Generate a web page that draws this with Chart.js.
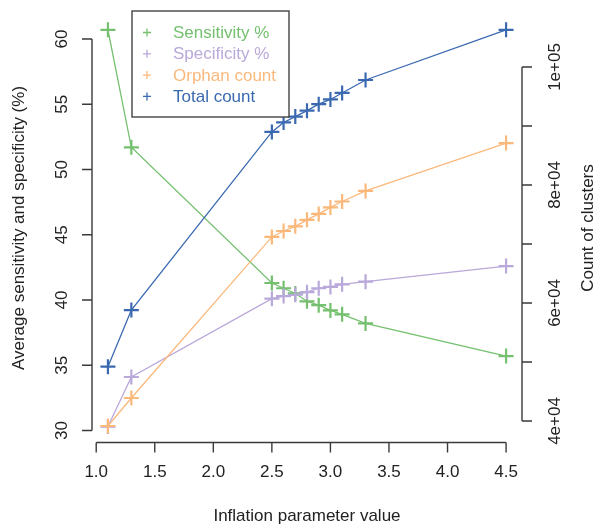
<!DOCTYPE html>
<html><head><meta charset="utf-8">
<script src="https://cdn.jsdelivr.net/npm/chart.js@4"></script>
<style>html,body{margin:0;padding:0;background:#fff;}</style>
</head><body>
<canvas id="c" width="599" height="525"></canvas>
<script>
// ---- data ----
const inflation   = [1.1, 1.3, 2.5, 2.6, 2.7, 2.8, 2.9, 3.0, 3.1, 3.3, 4.5];
const sensitivity = [60.7, 51.7, 41.3, 40.9, 40.5, 39.9, 39.6, 39.2, 38.9, 38.2, 35.7];
const specificity = [30.3, 34.1, 40.1, 40.3, 40.4, 40.6, 40.9, 41.0, 41.2, 41.4, 42.6];
const orphanCount = [39150, 43900, 71200, 72200, 73000, 74100, 75100, 76200, 77200, 79000, 87100];
const totalCount  = [49200, 58800, 89000, 90600, 91600, 92600, 93700, 94500, 95600, 97800, 106300];
const xTicks = [1.0, 1.5, 2.0, 2.5, 3.0, 3.5, 4.0, 4.5];
const xTickLabels = ['1.0','1.5','2.0','2.5','3.0','3.5','4.0','4.5'];
const leftTicks = [30, 35, 40, 45, 50, 55, 60];
const rightTicks = [40000, 50000, 60000, 70000, 80000, 90000, 100000];
const rightTickLabels = ['4e+04', '', '6e+04', '', '8e+04', '', '1e+05'];
const seriesNames = ['Sensitivity %', 'Specificity %', 'Orphan count', 'Total count'];
const seriesColors = ['#74c06e', '#b9a8da', '#fbb87b', '#3b69b1'];
const xTitle = 'Inflation parameter value';
const leftTitle = 'Average sensitivity and specificity (%)';
const rightTitle = 'Count of clusters';

const pts = arr => arr.map((v, i) => ({x: inflation[i], y: v}));
const FONT = '"Liberation Sans", Arial, Helvetica, sans-serif';
const AXC = '#3a3a3a';

function mk(i, data, axis) {
  return {
    label: seriesNames[i], data: pts(data), yAxisID: axis, order: 4 - i,
    borderColor: seriesColors[i], backgroundColor: seriesColors[i],
    borderWidth: 1.3, pointStyle: 'cross', pointRadius: 7.5,
    pointBorderWidth: 2.2, pointBorderColor: seriesColors[i],
    pointHoverRadius: 7.5, tension: 0, clip: false
  };
}

const rAxes = {
  id: 'rAxes',
  afterDraw(chart) {
    const ctx = chart.ctx, a = chart.chartArea;
    const sx = chart.scales.x, sl = chart.scales.yL, sr = chart.scales.yR;
    ctx.save();
    ctx.strokeStyle = AXC; ctx.lineWidth = 1.4; ctx.fillStyle = '#222';
    ctx.font = '17px ' + FONT;
    const T = 10;
    // x axis
    const yb = a.bottom;
    ctx.beginPath();
    ctx.moveTo(sx.getPixelForValue(xTicks[0]), yb);
    ctx.lineTo(sx.getPixelForValue(xTicks[xTicks.length-1]), yb);
    xTicks.forEach(t => { const p = sx.getPixelForValue(t); ctx.moveTo(p, yb); ctx.lineTo(p, yb + T); });
    ctx.stroke();
    ctx.textAlign = 'center'; ctx.textBaseline = 'middle';
    xTicks.forEach((t, i) => ctx.fillText(xTickLabels[i], sx.getPixelForValue(t), yb + 30));
    ctx.fillText(xTitle, (a.left + a.right) / 2, 516);
    // left axis
    const xl = a.left;
    ctx.beginPath();
    ctx.moveTo(xl, sl.getPixelForValue(leftTicks[0]));
    ctx.lineTo(xl, sl.getPixelForValue(leftTicks[leftTicks.length-1]));
    leftTicks.forEach(t => { const p = sl.getPixelForValue(t); ctx.moveTo(xl, p); ctx.lineTo(xl - T, p); });
    ctx.stroke();
    leftTicks.forEach(t => {
      ctx.save(); ctx.translate(xl - 30, sl.getPixelForValue(t)); ctx.rotate(-Math.PI/2);
      ctx.fillText(String(t), 0, 0); ctx.restore();
    });
    ctx.save(); ctx.translate(19, (a.top + a.bottom) / 2); ctx.rotate(-Math.PI/2);
    ctx.fillText(leftTitle, 0, 0); ctx.restore();
    // right axis
    const xr = a.right;
    ctx.beginPath();
    ctx.moveTo(xr, sr.getPixelForValue(rightTicks[0]));
    ctx.lineTo(xr, sr.getPixelForValue(rightTicks[rightTicks.length-1]));
    rightTicks.forEach(t => { const p = sr.getPixelForValue(t); ctx.moveTo(xr, p); ctx.lineTo(xr + T, p); });
    ctx.stroke();
    rightTicks.forEach((t, i) => {
      if (!rightTickLabels[i]) return;
      ctx.save(); ctx.translate(xr + 33, sr.getPixelForValue(t)); ctx.rotate(-Math.PI/2);
      ctx.fillText(rightTickLabels[i], 0, 0); ctx.restore();
    });
    ctx.save(); ctx.translate(588, (a.top + a.bottom) / 2); ctx.rotate(-Math.PI/2);
    ctx.fillText(rightTitle, 0, 0); ctx.restore();
    // legend
    const bx = 132, by = 11, bw = 157, bh = 106;
    ctx.fillStyle = '#fff'; ctx.fillRect(bx, by, bw, bh);
    ctx.strokeStyle = '#444'; ctx.lineWidth = 1.4; ctx.strokeRect(bx, by, bw, bh);
    ctx.textAlign = 'left';
    seriesNames.forEach((name, i) => {
      const yy = 32.5 + i * 21.3;
      ctx.strokeStyle = seriesColors[i]; ctx.lineWidth = 1.3;
      ctx.beginPath(); ctx.moveTo(143, yy); ctx.lineTo(151, yy); ctx.moveTo(147, yy - 4); ctx.lineTo(147, yy + 4); ctx.stroke();
      ctx.fillStyle = seriesColors[i]; ctx.fillText(name, 173, yy + 1);
    });
    ctx.restore();
  }
};

new Chart(document.getElementById('c'), {
  type: 'line',
  data: { datasets: [
    mk(0, sensitivity, 'yL'), mk(1, specificity, 'yL'),
    mk(2, orphanCount, 'yR'), mk(3, totalCount, 'yR')
  ]},
  options: {
    responsive: false, animation: false, devicePixelRatio: 1,
    layout: { padding: { left: 92, right: 77, top: 13.5, bottom: 82.5 } },
    plugins: { legend: { display: false }, tooltip: { enabled: false } },
    scales: {
      x: { type: 'linear', min: 0.964, max: 4.636, display: false },
      yL: { type: 'linear', position: 'left', min: 29.08, max: 61.95, display: false },
      yR: { type: 'linear', position: 'right', min: 36356, max: 109068, display: false }
    }
  },
  plugins: [rAxes]
});
</script>
</body></html>
